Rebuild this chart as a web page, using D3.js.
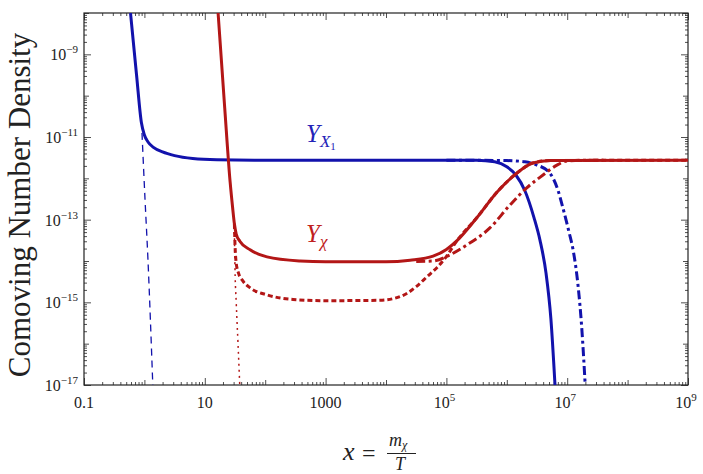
<!DOCTYPE html>
<html>
<head>
<meta charset="utf-8">
<script src="https://cdn.jsdelivr.net/npm/d3@7"></script>
<style>
  body { margin: 0; background: #fff; }
  svg { display: block; font-family: "Liberation Serif", "Times New Roman", serif; }
</style>
</head>
<body>
<svg width="703" height="474"></svg>
<script>
// tick values and labels
const xMajorTicks = [0.1, 10, 1000, 1e5, 1e7, 1e9];
const xTickBase = ["0.1", "10", "1000", "10", "10", "10"];
const xTickExp = ["", "", "", "5", "7", "9"];
const yMajorTicks = [1e-17, 1e-15, 1e-13, 1e-11, 1e-9];
const yTickExp = ["\u221217", "\u221215", "\u221213", "\u221211", "\u22129"];

// curves as [log10 x, log10 Y]
const blueSolid = [[-0.23, -8], [-0.13, -9.5], [-0.05, -10.65], [0.0, -10.95], [0.06, -11.12],
  [0.15, -11.25], [0.3, -11.36], [0.5, -11.45], [0.8, -11.52], [1.2, -11.55], [2, -11.56],
  [4, -11.56], [5.5, -11.56], [5.8, -11.6], [6.0, -11.72], [6.15, -11.92], [6.3, -12.3],
  [6.45, -12.95], [6.55, -13.5], [6.65, -14.3], [6.73, -15.4], [6.8, -17.05]];
const blueDashDot = [[5.0, -11.56], [6.0, -11.57], [6.3, -11.6], [6.5, -11.68], [6.7, -11.85],
  [6.85, -12.3], [6.93, -12.72], [7.03, -13.3], [7.1, -13.75], [7.18, -14.6], [7.24, -15.6],
  [7.3, -17.05]];
const blueEquil = [[-0.04, -10.9], [0.01, -12.5], [0.06, -14.0], [0.1, -15.45], [0.14, -17.05]];

const redSolid = [[1.22, -8], [1.33, -10.3], [1.42, -12.1], [1.46, -12.7], [1.49, -13.1],
  [1.52, -13.35], [1.58, -13.52], [1.75, -13.73], [2.03, -13.9], [2.58, -14.0], [3, -14.02],
  [4, -14.02], [4.4, -13.98], [4.78, -13.88], [5.0, -13.72], [5.18, -13.5], [5.5, -12.96],
  [5.84, -12.33], [6.17, -11.87], [6.43, -11.63], [6.72, -11.57], [9, -11.56]];
const redDashed = [[1.49, -13.1], [1.5, -13.6], [1.52, -14.05], [1.56, -14.3], [1.63, -14.48],
  [1.75, -14.65], [2.03, -14.82], [2.46, -14.93], [3, -14.96], [3.9, -14.95], [4.15, -14.9],
  [4.35, -14.78], [4.5, -14.62], [4.68, -14.38], [4.85, -14.15], [4.98, -13.93], [5.18, -13.5],
  [5.5, -12.96], [5.84, -12.33], [6.17, -11.87], [6.43, -11.63], [6.72, -11.57], [9, -11.56]];
const redDashDot = [[4.5, -14.01], [4.78, -14.0], [5.06, -13.85], [5.34, -13.61], [5.72, -13.2],
  [6.05, -12.65], [6.33, -12.23], [6.6, -11.92], [6.83, -11.68], [7.0, -11.58], [7.3, -11.56],
  [7.6, -11.56]];
const redEquil = [[1.49, -13.3], [1.5, -14.2], [1.52, -15.0], [1.55, -16.0], [1.58, -17.05]];

const blue = "#1212ac";
const red = "#b31616";

const svg = d3.select("svg");
const margin = { top: 13, right: 15, bottom: 89, left: 84 };
const width = +svg.attr("width") - margin.left - margin.right;
const height = +svg.attr("height") - margin.top - margin.bottom;

const x = d3.scaleLog().domain([0.1, 1e9]).range([0, width]);
const y = d3.scaleLog().domain([1e-17, 1e-8]).range([height, 0]);

const g = svg.append("g").attr("transform", `translate(${margin.left},${margin.top})`);

// tick sets: labelled majors, plain decades, minors 2..9
function tickSets(lo, hi, majors) {
  const decades = [], minors = [];
  for (let k = lo; k <= hi; k++) {
    const d = Math.pow(10, k);
    if (!majors.some((m) => Math.abs(Math.log10(m) - k) < 1e-9)) decades.push(d);
    if (k < hi) for (let m = 2; m <= 9; m++) minors.push(m * d);
  }
  return { decades, minors };
}
const xs = tickSets(-1, 9, xMajorTicks);
const ys = tickSets(-17, -8, yMajorTicks);

function drawTicks(axisFn, scale, values, len, transform) {
  g.append("g")
    .attr("class", "ticks")
    .attr("transform", transform)
    .call(axisFn(scale).tickValues(values).tickSize(len).tickSizeOuter(0).tickFormat(""))
    .call((s) => s.select(".domain").remove());
}
[[xMajorTicks, 7], [xs.decades, 5], [xs.minors, 3]].forEach(([v, l]) => {
  drawTicks(d3.axisBottom, x, v, -l, `translate(0,${height})`);
  drawTicks(d3.axisTop, x, v, -l, "translate(0,0)");
});
[[yMajorTicks, 7], [ys.decades, 5], [ys.minors, 3]].forEach(([v, l]) => {
  drawTicks(d3.axisLeft, y, v, -l, "translate(0,0)");
  drawTicks(d3.axisRight, y, v, -l, `translate(${width},0)`);
});
g.selectAll(".ticks line").attr("stroke", "#222").attr("stroke-width", 0.8);

// frame
g.append("rect")
  .attr("width", width)
  .attr("height", height)
  .attr("fill", "none")
  .attr("stroke", "#222")
  .attr("stroke-width", 1.2);

// tick labels
const xl = g.append("g").attr("font-size", 16).attr("fill", "#222");
xMajorTicks.forEach((v, i) => {
  const t = xl.append("text")
    .attr("x", x(v) - (xTickExp[i] ? 2 : 0))
    .attr("y", height + 23)
    .attr("text-anchor", "middle")
    .text(xTickBase[i]);
  if (xTickExp[i]) t.append("tspan").attr("dy", -7).attr("font-size", 11).text(xTickExp[i]);
});
const yl = g.append("g").attr("font-size", 16).attr("fill", "#222");
yMajorTicks.forEach((v, i) => {
  const t = yl.append("text")
    .attr("x", -6)
    .attr("y", y(v) + 6)
    .attr("text-anchor", "end")
    .text("10");
  t.append("tspan").attr("dy", -7).attr("font-size", 11).text(yTickExp[i]);
});

// curves
g.append("clipPath").attr("id", "clip")
  .append("rect").attr("width", width).attr("height", height);

const line = d3.line()
  .x((d) => x(Math.pow(10, d[0])))
  .y((d) => y(Math.pow(10, d[1])))
  .curve(d3.curveMonotoneX);

const curves = [
  { data: blueEquil, color: blue, w: 1.3, dash: "7,5" },
  { data: blueDashDot, color: blue, w: 3, dash: "9,3.5,3,3.5" },
  { data: blueSolid, color: blue, w: 3, dash: null },
  { data: redEquil, color: red, w: 1.5, dash: "2,4" },
  { data: redDashed, color: red, w: 3, dash: "5,3" },
  { data: redDashDot, color: red, w: 3, dash: "9,3.5,3,3.5" },
  { data: redSolid, color: red, w: 3, dash: null }
];
const cg = g.append("g").attr("clip-path", "url(#clip)");
curves.forEach((c) => {
  cg.append("path")
    .attr("d", line(c.data))
    .attr("fill", "none")
    .attr("stroke", c.color)
    .attr("stroke-width", c.w)
    .attr("stroke-dasharray", c.dash)
    .attr("stroke-linejoin", "round");
});

// curve labels
const lab1 = svg.append("text").attr("x", 306).attr("y", 142)
  .attr("fill", "#2323b8").attr("font-style", "italic").attr("font-size", 25);
lab1.append("tspan").text("Y");
lab1.append("tspan").attr("dy", 5).attr("font-size", 17).text("X");
lab1.append("tspan").attr("dy", 3).attr("font-size", 11).attr("font-style", "normal").text("1");

const lab2 = svg.append("text").attr("x", 306).attr("y", 242)
  .attr("fill", "#c02020").attr("font-style", "italic").attr("font-size", 25);
lab2.append("tspan").text("Y");
lab2.append("tspan").attr("dy", 5).attr("font-size", 17).text("\u03c7");

// axis titles
svg.append("text")
  .attr("transform", "translate(30,205) rotate(-90)")
  .attr("text-anchor", "middle")
  .attr("font-size", 31)
  .attr("fill", "#222")
  .text("Comoving Number Density");

const xt = svg.append("g").attr("fill", "#222").attr("font-style", "italic");
xt.append("text").attr("x", 343).attr("y", 460).attr("font-size", 26).text("x");
xt.append("text").attr("x", 362).attr("y", 461).attr("font-size", 24).attr("font-style", "normal").text("=");
const num = xt.append("text").attr("x", 389).attr("y", 446).attr("font-size", 18);
num.append("tspan").text("m");
num.append("tspan").attr("dy", 3).attr("font-size", 12).text("\u03c7");
xt.append("line").attr("x1", 387).attr("x2", 416).attr("y1", 453.5).attr("y2", 453.5)
  .attr("stroke", "#222").attr("stroke-width", 1);
xt.append("text").attr("x", 395).attr("y", 470).attr("font-size", 18).text("T");
</script>
</body>
</html>
